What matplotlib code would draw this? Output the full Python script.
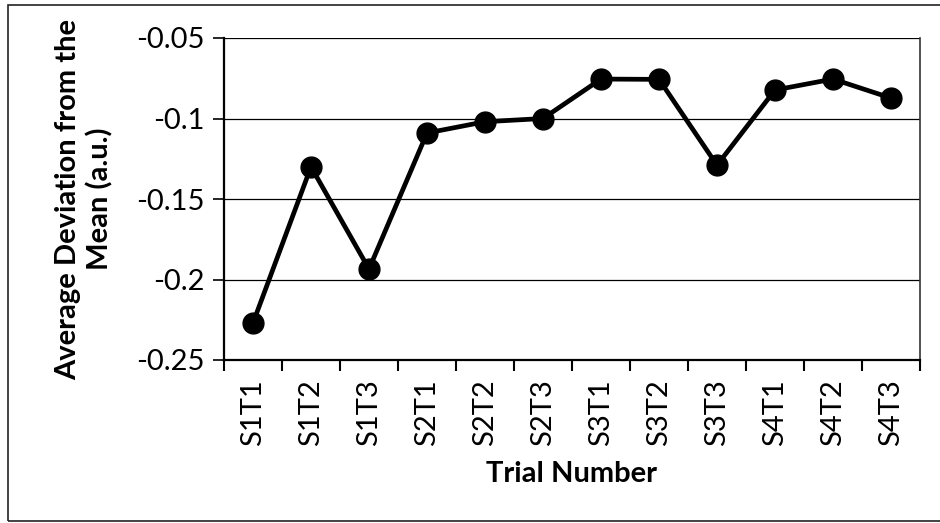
import matplotlib
matplotlib.use("Agg")
import matplotlib.pyplot as plt
from matplotlib.patches import Rectangle

categories = ["S1T1", "S1T2", "S1T3", "S2T1", "S2T2", "S2T3",
              "S3T1", "S3T2", "S3T3", "S4T1", "S4T2", "S4T3"]
values = [-0.227, -0.130, -0.1935, -0.109, -0.102, -0.100,
          -0.0755, -0.0757, -0.129, -0.0823, -0.0755, -0.0873]
yticks = [-0.25, -0.2, -0.15, -0.1, -0.05]
ytick_labels = ["-0.25", "-0.2", "-0.15", "-0.1", "-0.05"]

plt.rcParams['font.family'] = ['Lato', 'DejaVu Sans']

W, H = 940, 523
fig = plt.figure(figsize=(W / 100, H / 100), dpi=100)
ax = fig.add_axes([224 / W, 1 - 360 / H, (920 - 224) / W, (360 - 38) / H])

x = list(range(len(categories)))
ax.plot(x, values, color='black', lw=3.4, marker='o', markersize=15,
        zorder=3, clip_on=False)

ax.set_xlim(-0.5, len(categories) - 0.5)
ax.set_ylim(-0.25, -0.05)
ax.set_yticks(yticks)
ax.set_yticklabels(ytick_labels, fontsize=21)
for y in yticks[1:]:
    ax.axhline(y, color='black', lw=0.9, zorder=1)

ax.set_xticks(x)
ax.set_xticklabels(categories, rotation=90, fontsize=21)
ax.set_xticks([i + 0.5 for i in range(-1, len(categories))], minor=True)
ax.tick_params(axis='x', which='major', length=0, pad=14)
ax.tick_params(axis='x', which='minor', length=8, width=1.5, direction='out')
ax.tick_params(axis='y', length=8, width=1.2, direction='out', pad=6)

for side in ['left', 'bottom']:
    ax.spines[side].set_linewidth(1.6)
    ax.spines[side].set_color('black')
ax.spines['top'].set_visible(False)
ax.spines['right'].set_color('#333333')
ax.spines['right'].set_linewidth(1.2)

fig.text(84 / W, 1 - 199 / H, "Average Deviation from the\nMean (a.u.)",
         rotation=90, ha='center', va='center', fontsize=21,
         fontweight='bold', linespacing=1.25)
fig.text(572 / W, 1 - 474 / H, "Trial Number", ha='center', va='center',
         fontsize=21, fontweight='bold')

fig.patches.append(Rectangle((8 / W, 1 - 521 / H), 1.0, (521 - 5) / H,
                             transform=fig.transFigure, fill=False,
                             edgecolor='#222222', lw=1.2))

fig.savefig("out.png", dpi=100, facecolor='white')
